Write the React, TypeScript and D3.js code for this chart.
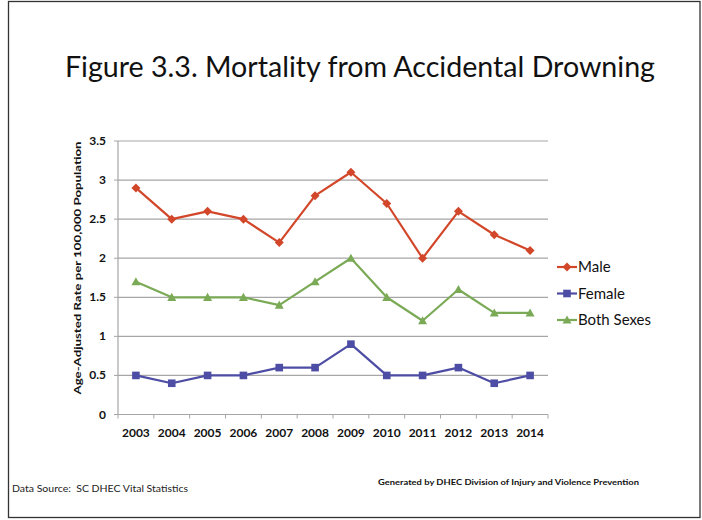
import React from "react";
import * as d3 from "d3";

const years = ["2003","2004","2005","2006","2007","2008","2009","2010","2011","2012","2013","2014"];
const male = [2.9, 2.5, 2.6, 2.5, 2.2, 2.8, 3.1, 2.7, 2.0, 2.6, 2.3, 2.1];
const female = [0.5, 0.4, 0.5, 0.5, 0.6, 0.6, 0.9, 0.5, 0.5, 0.6, 0.4, 0.5];
const both = [1.7, 1.5, 1.5, 1.5, 1.4, 1.7, 2.0, 1.5, 1.2, 1.6, 1.3, 1.3];
const yTicks = [0, 0.5, 1, 1.5, 2, 2.5, 3, 3.5];
const seriesNames = ["Male", "Female", "Both Sexes"];

const colors = ["#D2472A", "#4D4DA5", "#7BAA57"];
const FONT = "Lato, 'Open Sans', sans-serif";

function Marker({ kind, x, y, color }: { kind: number; x: number; y: number; color: string }) {
  if (kind === 0) {
    const s = 4.5;
    return <path d={`M${x},${y - s}L${x + s},${y}L${x},${y + s}L${x - s},${y}Z`} fill={color} />;
  }
  if (kind === 1) {
    const s = 3.8;
    return <rect x={x - s} y={y - s} width={2 * s} height={2 * s} fill={color} />;
  }
  const s = 4.5;
  return <path d={`M${x},${y - s}L${x + s},${y + s * 0.8}L${x - s},${y + s * 0.8}Z`} fill={color} />;
}

export default function App() {
  const W = 702, H = 520;
  const x = d3.scaleBand().domain(years).range([118, 548]);
  const y = d3.scaleLinear().domain([0, 3.5]).range([414.5, 141]);
  const data = [male, female, both];
  const line = d3.line<number>().x((_, i) => (x(years[i]) as number) + x.bandwidth() / 2).y((d) => y(d));
  const boundaries = d3.range(years.length + 1).map((i) => 118 + i * x.bandwidth());

  return (
    <svg width={W} height={H} style={{ position: "absolute", left: 0, top: 0 }} fontFamily={FONT}>
      <rect x={0} y={0} width={W} height={H} fill="#fff" />
      <rect x={8.5} y={1.5} width={691.5} height={516} fill="none" stroke="#333" strokeWidth={1.3} />
      <text x={360} y={77} textAnchor="middle" fontSize={29} fill="#111" textLength={590} lengthAdjust="spacingAndGlyphs">
        Figure 3.3. Mortality from Accidental Drowning
      </text>
      {yTicks.map((t) => (
        <g key={t}>
          {t > 0 && <line x1={118} x2={548} y1={y(t)} y2={y(t)} stroke="#A6A6A6" strokeWidth={1.2} />}
          <text x={106} y={y(t) + 4} textAnchor="end" fontSize={12} fontWeight="bold" fill="#111">
            {t}
          </text>
        </g>
      ))}
      <line x1={118} x2={118} y1={141} y2={y(0)} stroke="#A6A6A6" strokeWidth={1.2} />
      <line x1={118} x2={548} y1={y(0)} y2={y(0)} stroke="#A6A6A6" strokeWidth={1.2} />
      {boundaries.map((b, i) => (
        <line key={i} x1={b} x2={b} y1={y(0)} y2={y(0) + 4} stroke="#A6A6A6" strokeWidth={1} />
      ))}
      {yTicks.map((t) => (
        <line key={"yt" + t} x1={114} x2={118} y1={y(t)} y2={y(t)} stroke="#A6A6A6" strokeWidth={1} />
      ))}
      {years.map((yr) => (
        <text key={yr} x={(x(yr) as number) + x.bandwidth() / 2} y={436.5} textAnchor="middle" fontSize={12} fontWeight="bold" fill="#111">
          {yr}
        </text>
      ))}
      <text
        transform={`translate(81,268) rotate(-90)`}
        textAnchor="middle"
        fontSize={10}
        fontWeight="bold"
        fill="#111"
        textLength={253}
        lengthAdjust="spacingAndGlyphs"
      >
        Age-Adjusted Rate per 100,000 Population
      </text>
      {data.map((s, k) => (
        <g key={k}>
          <path d={line(s) || ""} fill="none" stroke={colors[k]} strokeWidth={2.2} strokeLinejoin="round" />
          {s.map((v, i) => (
            <Marker key={i} kind={k} x={(x(years[i]) as number) + x.bandwidth() / 2} y={y(v)} color={colors[k]} />
          ))}
        </g>
      ))}
      {seriesNames.map((n, k) => {
        const ly = 267 + k * 26.5;
        return (
          <g key={n}>
            <line x1={557} x2={577} y1={ly} y2={ly} stroke={colors[k]} strokeWidth={2.2} />
            <Marker kind={k} x={567} y={ly} color={colors[k]} />
            <text x={578} y={ly + 5} fontSize={15} fill="#111">
              {n}
            </text>
          </g>
        );
      })}
      <text x={12} y={492} fontSize={10} fill="#222" textLength={176} lengthAdjust="spacingAndGlyphs">
        Data Source:&#160;&#160;SC DHEC Vital Statistics
      </text>
      <text x={378} y={485} fontSize={8} fontWeight="bold" fill="#111" textLength={261} lengthAdjust="spacingAndGlyphs">
        Generated by DHEC Division of Injury and Violence Prevention
      </text>
    </svg>
  );
}
